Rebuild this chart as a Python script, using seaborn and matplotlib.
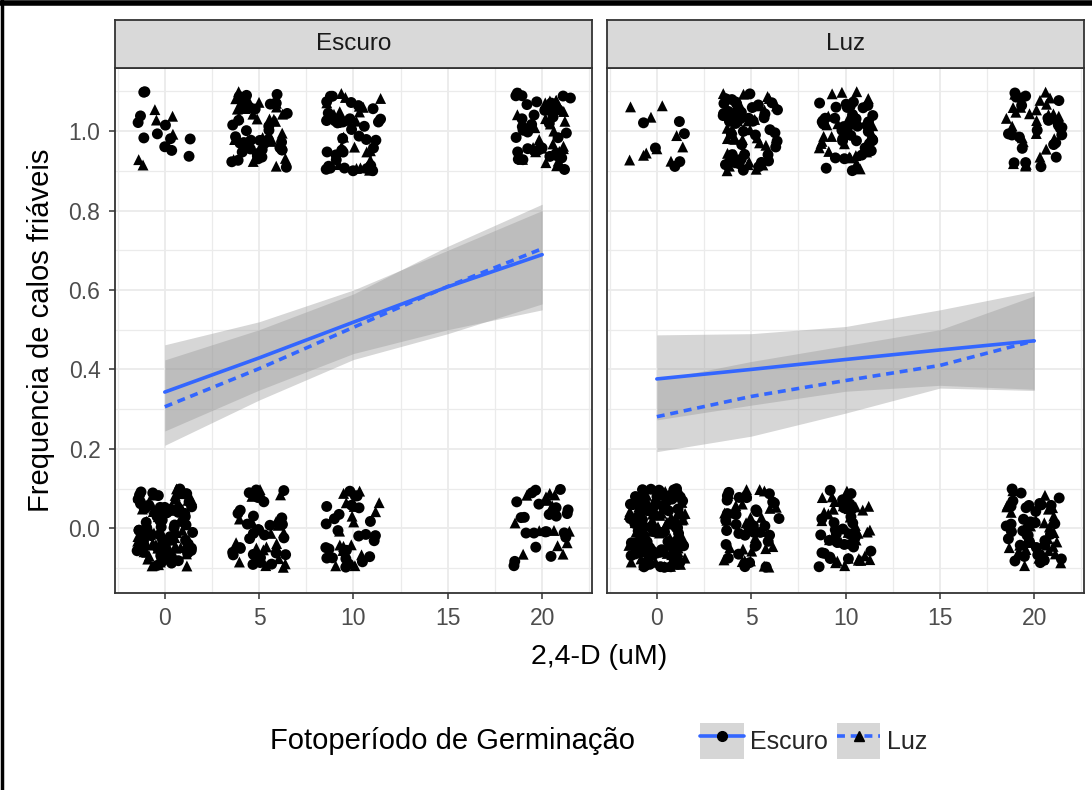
import numpy as np
import pandas as pd
import matplotlib
matplotlib.use("Agg")
import matplotlib.pyplot as plt
import seaborn as sns
from matplotlib.patches import Patch
from matplotlib.lines import Line2D
from matplotlib.legend_handler import HandlerTuple
from matplotlib.ticker import MultipleLocator, FormatStrFormatter

# doses de 2,4-D e facetas (fotoperíodo do cultivo)
doses = [0, 5, 10, 20]
paineis = ["Escuro", "Luz"]

# número de explantes por dose: resposta 1 (friável) / 0, por fotoperíodo de germinação
# painel Escuro
esc_um_escuro = [12, 38, 35, 35]
esc_um_luz = [7, 26, 22, 26]
esc_zero_escuro = [70, 30, 26, 22]
esc_zero_luz = [55, 22, 16, 14]
# painel Luz
luz_um_escuro = [6, 42, 40, 24]
luz_um_luz = [10, 36, 26, 26]
luz_zero_escuro = [80, 34, 30, 36]
luz_zero_luz = [70, 30, 32, 30]

# curvas ajustadas (glm binomial) e IC
doses_fit = [0, 5, 10, 15, 20]
esc_fit_escuro = [0.343, 0.429, 0.519, 0.608, 0.689]
esc_lo_escuro = [0.245, 0.348, 0.440, 0.500, 0.550]
esc_hi_escuro = [0.462, 0.520, 0.600, 0.700, 0.800]
esc_fit_luz = [0.306, 0.402, 0.506, 0.609, 0.704]
esc_lo_luz = [0.209, 0.323, 0.425, 0.490, 0.565]
esc_hi_luz = [0.424, 0.500, 0.590, 0.710, 0.816]
luz_fit_escuro = [0.376, 0.400, 0.425, 0.449, 0.472]
luz_lo_escuro = [0.273, 0.310, 0.345, 0.360, 0.350]
luz_hi_escuro = [0.487, 0.490, 0.508, 0.550, 0.597]
luz_fit_luz = [0.281, 0.332, 0.372, 0.410, 0.472]
luz_lo_luz = [0.193, 0.232, 0.290, 0.353, 0.347]
luz_hi_luz = [0.373, 0.420, 0.460, 0.500, 0.585]

contagens = {
    ("Escuro", "Escuro", 1): esc_um_escuro,
    ("Escuro", "Luz", 1): esc_um_luz,
    ("Escuro", "Escuro", 0): esc_zero_escuro,
    ("Escuro", "Luz", 0): esc_zero_luz,
    ("Luz", "Escuro", 1): luz_um_escuro,
    ("Luz", "Luz", 1): luz_um_luz,
    ("Luz", "Escuro", 0): luz_zero_escuro,
    ("Luz", "Luz", 0): luz_zero_luz,
}
linhas = []
for (painel, grupo, resp), ns in contagens.items():
    for d, n in zip(doses, ns):
        linhas += [(painel, grupo, d, resp)] * n
df = pd.DataFrame(linhas, columns=["painel", "grupo", "dose", "resp"])

# deslocamento tipo geom_jitter (só posição visual)
rng = np.random.default_rng(11)
df["x"] = df["dose"] + rng.uniform(-1.5, 1.5, len(df))
df["y"] = df["resp"] + rng.uniform(-0.1, 0.1, len(df))

ajustes = {
    "Escuro": {"Escuro": (esc_fit_escuro, esc_lo_escuro, esc_hi_escuro),
               "Luz": (esc_fit_luz, esc_lo_luz, esc_hi_luz)},
    "Luz": {"Escuro": (luz_fit_escuro, luz_lo_escuro, luz_hi_escuro),
            "Luz": (luz_fit_luz, luz_lo_luz, luz_hi_luz)},
}
fit_rows = []
for painel, g in ajustes.items():
    for grupo, (f, lo, hi) in g.items():
        for d, a, b, c in zip(doses_fit, f, lo, hi):
            fit_rows.append((painel, grupo, d, a, b, c))
fit_df = pd.DataFrame(fit_rows, columns=["painel", "grupo", "dose", "fit", "lo", "hi"])

sns.set_theme(style="white")
plt.rcParams["font.family"] = ["Liberation Sans", "DejaVu Sans"]

azul = "#3366FF"
fig = plt.figure(figsize=(10.92, 7.90), dpi=100)
lefts = [0.1053, 0.5559]
w, bottom, h = 0.4368, 0.2498, 0.6637

for i, painel in enumerate(paineis):
    ax = fig.add_axes([lefts[i], bottom, w, h])
    ax.set_facecolor("white")
    sub = fit_df[fit_df["painel"] == painel]
    for grupo in ["Escuro", "Luz"]:
        s = sub[sub["grupo"] == grupo]
        ax.fill_between(s["dose"], s["lo"], s["hi"], color="#999999", alpha=0.4, lw=0, zorder=2)
    sns.lineplot(data=sub, x="dose", y="fit", style="grupo",
                 dashes={"Escuro": "", "Luz": (2.2, 1.6)}, color=azul, lw=2.6,
                 legend=False, ax=ax, zorder=3)
    pts = df[df["painel"] == painel]
    sns.scatterplot(data=pts, x="x", y="y", style="grupo",
                    markers={"Escuro": "o", "Luz": "^"}, color="black", s=62,
                    linewidth=0, legend=False, ax=ax, zorder=4)

    ax.set_xlim(-2.64, 22.64)
    ax.set_ylim(-0.162, 1.158)
    ax.xaxis.set_major_locator(MultipleLocator(5))
    ax.xaxis.set_minor_locator(MultipleLocator(2.5))
    ax.yaxis.set_major_locator(MultipleLocator(0.2))
    ax.yaxis.set_minor_locator(MultipleLocator(0.1))
    ax.yaxis.set_major_formatter(FormatStrFormatter("%.1f"))
    ax.grid(which="major", color="#EBEBEB", lw=1.3, zorder=0)
    ax.grid(which="minor", color="#EBEBEB", lw=0.9, zorder=0)
    ax.set_axisbelow(True)
    ax.tick_params(which="major", length=4.5, width=1.1, color="#333333",
                   labelcolor="#4D4D4D", labelsize=16.5, pad=6,
                   bottom=True, left=(i == 0), labelleft=(i == 0))
    ax.tick_params(which="minor", length=0)
    for sp in ax.spines.values():
        sp.set_color("#333333")
        sp.set_linewidth(1.3)
    ax.set_xlabel("")
    ax.set_ylabel("")

    # faixa do facet
    st = fig.add_axes([lefts[i], bottom + h, w, 0.0612])
    st.set_facecolor("#D9D9D9")
    st.set_xticks([])
    st.set_yticks([])
    for sp in st.spines.values():
        sp.set_color("#333333")
        sp.set_linewidth(1.3)
    st.text(0.5, 0.5, painel, ha="center", va="center", fontsize=17.5, color="#1A1A1A",
            transform=st.transAxes)

fig.text(0.0375, 0.582, "Frequencia de calos friáveis", rotation=90,
         ha="center", va="center", fontsize=21, color="black")
fig.text(0.5485, 0.168, "2,4-D (uM)", ha="center", va="center", fontsize=20.5, color="black")

# legenda no rodapé
fig.text(0.2473, 0.062, "Fotoperíodo de Germinação", ha="left", va="center",
         fontsize=21, color="black")
fundo = "#D6D6D6"
h1 = (Patch(facecolor=fundo, edgecolor="none"),
      Line2D([], [], color=azul, lw=2.6, marker="o", markersize=7,
             markerfacecolor="black", markeredgecolor="black"))
h2 = (Patch(facecolor=fundo, edgecolor="none"),
      Line2D([], [], color=azul, lw=2.6, ls=(0, (2.2, 1.6)), marker="^", markersize=7,
             markerfacecolor="black", markeredgecolor="black"))
fig.legend([h1, h2], ["Escuro", "Luz"], ncol=2, frameon=False,
           handler_map={tuple: HandlerTuple(ndivide=1, pad=0)},
           loc="center left", bbox_to_anchor=(700 / 1092, 0.062),
           bbox_transform=fig.transFigure, borderaxespad=0, borderpad=0,
           fontsize=18, handlelength=1.75, handleheight=1.8,
           handletextpad=0.25, columnspacing=0.35)

# moldura preta (esquerda e topo) do recorte original
fig.add_artist(Line2D([0.002, 0.002], [0, 1], transform=fig.transFigure, color="black", lw=2.5))
fig.add_artist(Line2D([0, 1], [0.996, 0.996], transform=fig.transFigure, color="black", lw=4))

fig.savefig("out.png", dpi=100)
